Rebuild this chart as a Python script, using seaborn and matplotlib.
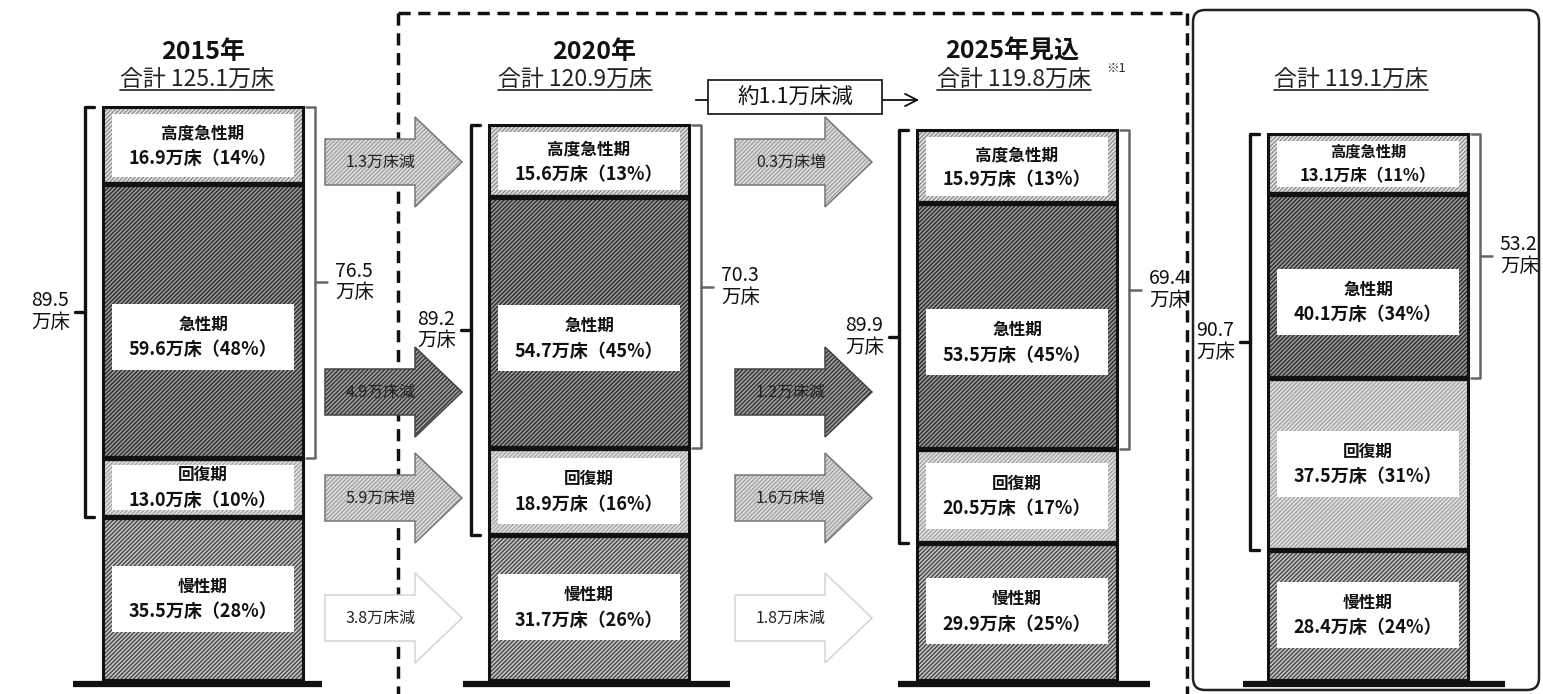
import numpy as np
import matplotlib
matplotlib.use("Agg")
import matplotlib.pyplot as plt
from matplotlib.patches import Rectangle, Polygon, FancyBboxPatch
import seaborn as sns

# ---- data (万床) ----
years = ["2015年", "2020年", "2025年見込", ""]
totals = [125.1, 120.9, 119.8, 119.1]
# segments, bottom -> top
chronic = [35.5, 31.7, 29.9, 28.4]
recovery = [13.0, 18.9, 20.5, 37.5]
acute = [59.6, 54.7, 53.5, 40.1]
high_acute = [16.9, 15.6, 15.9, 13.1]
pct_chronic = [28, 26, 25, 24]
pct_recovery = [10, 16, 17, 31]
pct_acute = [48, 45, 45, 34]
pct_high = [14, 13, 13, 11]
# bracket totals printed on the chart
sum_no_chronic = [89.5, 89.2, 89.9, 90.7]
sum_acute_high = [76.5, 70.3, 69.4, 53.2]
# changes between bars (chronic, recovery, acute, high)
change_15_20 = [-3.8, 5.9, -4.9, -1.3]
change_20_25 = [-1.8, 1.6, -1.2, 0.3]
total_change = "約1.1万床減"

# ---- layout (pixels) ----
W, H = 1543, 694
BASE = 680          # pixel row of bar bottoms
K = 0.218           # 万床 per pixel
bar_x = [203, 589, 1017, 1368]
bar_w = 200
base_ext = [(73, 322), (463, 730), (898, 1150), (1243, 1505)]
title_x = [203, 594, 1012, None]
sum_x = [197, 575, 1014, 1351]
HATCH = "////////"

sns.set_theme(style="white")
plt.rcParams['font.family'] = ['Noto Sans CJK JP', 'DejaVu Sans']
plt.rcParams['hatch.linewidth'] = 1.0

fig = plt.figure(figsize=(W / 100, H / 100), dpi=100)
fig.patch.set_facecolor("white")

ax = fig.add_axes([0, 0, 1, 1])
ax.set_xlim(0, W)
ax.set_ylim(-(H - BASE) * K, BASE * K)
ax.axis("off")

deco = fig.add_axes([0, 0, 1, 1], zorder=-1)
deco.set_xlim(0, W)
deco.set_ylim(H, 0)
deco.axis("off")
deco.patch.set_visible(False)

# name, values, shares, fill, hatch colour, label shift (px, downward)
layers = [
    ("慢性期", chronic, pct_chronic, "#c8c8c8", "#444444", 0),
    ("回復期", recovery, pct_recovery, "#e4e4e4", "#a2a2a2", 0),
    ("急性期", acute, pct_acute, "#9c9c9c", "#2a2a2a", 16),
    ("高度急性期", high_acute, pct_high, "#e6e6e6", "#8e8e8e", 0),
]

bottom = np.zeros(4)
tops = []
for name, vals, pcts, fc, hc, shift in layers:
    vals = np.array(vals)
    ax.bar(bar_x, vals, bottom=bottom, width=bar_w, color=fc, edgecolor=hc,
           hatch=HATCH, linewidth=0, zorder=1)
    for i in range(4):
        seg_px = vals[i] / K
        box_h = min(seg_px - 14, 66) * K
        yc = bottom[i] + vals[i] / 2 - shift * K
        ax.add_patch(Rectangle((bar_x[i] - bar_w / 2 + 9, yc - box_h / 2), bar_w - 18, box_h,
                               facecolor="white", edgecolor="none", zorder=2))
        small = i == 3 and name == "高度急性期"
        ax.text(bar_x[i], yc + 12 * K, name, ha="center", va="center",
                fontsize=11 if small else 12, fontweight="bold", color="#111", zorder=4)
        ax.text(bar_x[i], yc - 13 * K, f"{vals[i]:.1f}万床（{pcts[i]}%）", ha="center", va="center",
                fontsize=12 if small else 13, fontweight="bold", color="#111", zorder=4)
    bottom = bottom + vals
    tops.append(bottom.copy())

# outlines and separators
ax.bar(bar_x, bottom, width=bar_w, fill=False, edgecolor="#111", linewidth=2.2, zorder=3)
for t in tops[:-1]:
    for i in range(4):
        ax.hlines(t[i], bar_x[i] - bar_w / 2, bar_x[i] + bar_w / 2, color="#111", lw=3.8, zorder=3)

# brackets
for i in range(4):
    top = tops[-1][i]
    lx = bar_x[i] - bar_w / 2 - 18
    lb = tops[0][i]
    ax.plot([lx + 9, lx, lx, lx + 9], [top, top, lb, lb], color="#111", lw=2.4, zorder=3)
    lm = (top + lb) / 2
    ax.plot([lx, lx - 10], [lm, lm], color="#111", lw=2.4)
    ax.text(lx - 15, lm, f"{sum_no_chronic[i]:.1f}\n万床", ha="right", va="center",
            multialignment="left", fontsize=14, linespacing=1.05, color="#111")

    rx = bar_x[i] + bar_w / 2 + 12
    rb = tops[1][i]
    ax.plot([rx - 9, rx, rx, rx - 9], [top, top, rb, rb], color="#666", lw=1.8, zorder=3)
    rm = (top + rb) / 2
    ax.plot([rx, rx + 12], [rm, rm], color="#666", lw=1.8)
    ax.text(rx + 20, rm, f"{sum_acute_high[i]:.1f}\n万床", ha="left", va="center",
            multialignment="left", fontsize=14, linespacing=1.05, color="#111")

# baselines
for x0, x1 in base_ext:
    deco.plot([x0, x1], [684, 684], color="#111", lw=4.5, solid_capstyle="butt")

# dashed frame around 2020 / 2025
dash = dict(color="#111", lw=2.5, dashes=(3.5, 2.2))
deco.plot([398, 398], [13, H], **dash)
deco.plot([398, 1187], [13, 13], **dash)
deco.plot([1187, 1187], [13, H], **dash)

# solid rounded frame
deco.add_patch(FancyBboxPatch((1193, 10), 346, 680, boxstyle="round,pad=0,rounding_size=12",
                              facecolor="none", edgecolor="#222", lw=1.8))

# titles
for i, yr in enumerate(years):
    if yr:
        deco.text(title_x[i], 52, yr, ha="center", va="center", fontsize=18,
                  fontweight="bold", color="#111")
sum_texts = []
for i, tot in enumerate(totals):
    t = deco.text(sum_x[i], 79, f"合計 {tot:.1f}万床", ha="center", va="center",
                  fontsize=16.5, color="#222")
    sum_texts.append(t)
deco.text(1106, 68, "※1", ha="left", va="center", fontsize=9, color="#222")

# total change box
deco.annotate("", xy=(922, 100), xytext=(693, 100),
              arrowprops=dict(arrowstyle="->", lw=1.3, color="#111", mutation_scale=22))
deco.add_patch(Rectangle((708, 80), 174, 34, facecolor="white", edgecolor="#222", lw=1.3, zorder=3))
deco.text(795, 97, total_change, ha="center", va="center", fontsize=15.5, color="#111", zorder=4)

# block arrows
arrow_y = [618, 498, 392, 162]
arrow_style = [
    ("white", None, "#d4d4d4"),
    ("#e0e0e0", "#a0a0a0", "#777"),
    ("#a4a4a4", "#333333", "#444"),
    ("#e0e0e0", "#a0a0a0", "#777"),
]


def block_arrow(x0, x1, yc, fc, hc, ec):
    bh, hh, hl = 23, 45, 47
    xs = [x0, x1 - hl, x1 - hl, x1, x1 - hl, x1 - hl, x0]
    ys = [yc - bh, yc - bh, yc - hh, yc, yc + hh, yc + bh, yc + bh]
    pts = np.c_[xs, ys]
    if hc:
        deco.add_patch(Polygon(pts, closed=True, facecolor=fc, edgecolor=hc,
                               hatch=HATCH, lw=0, zorder=2))
    else:
        deco.add_patch(Polygon(pts, closed=True, facecolor=fc, lw=0, zorder=2))
    deco.add_patch(Polygon(pts, closed=True, fill=False, edgecolor=ec, lw=1.1, zorder=2))


for x0, changes in [(325, change_15_20), (735, change_20_25)]:
    for j, ch in enumerate(changes):
        fc, hc, ec = arrow_style[j]
        block_arrow(x0, x0 + 137, arrow_y[j], fc, hc, ec)
        lab = f"{abs(ch):.1f}万床{'増' if ch > 0 else '減'}"
        deco.text(x0 + 56, arrow_y[j], lab, ha="center", va="center", fontsize=11.5,
                  color="#222", zorder=3)

# underline the totals
fig.canvas.draw()
r = fig.canvas.get_renderer()
inv = deco.transData.inverted()
for t in sum_texts:
    bb = t.get_window_extent(r)
    (ux0, uy), (ux1, _) = inv.transform([(bb.x0, bb.y0), (bb.x1, bb.y0)])
    deco.plot([ux0, ux1], [uy - 1, uy - 1], color="#333", lw=1.3)

fig.savefig("out.png", dpi=100, facecolor="white")
